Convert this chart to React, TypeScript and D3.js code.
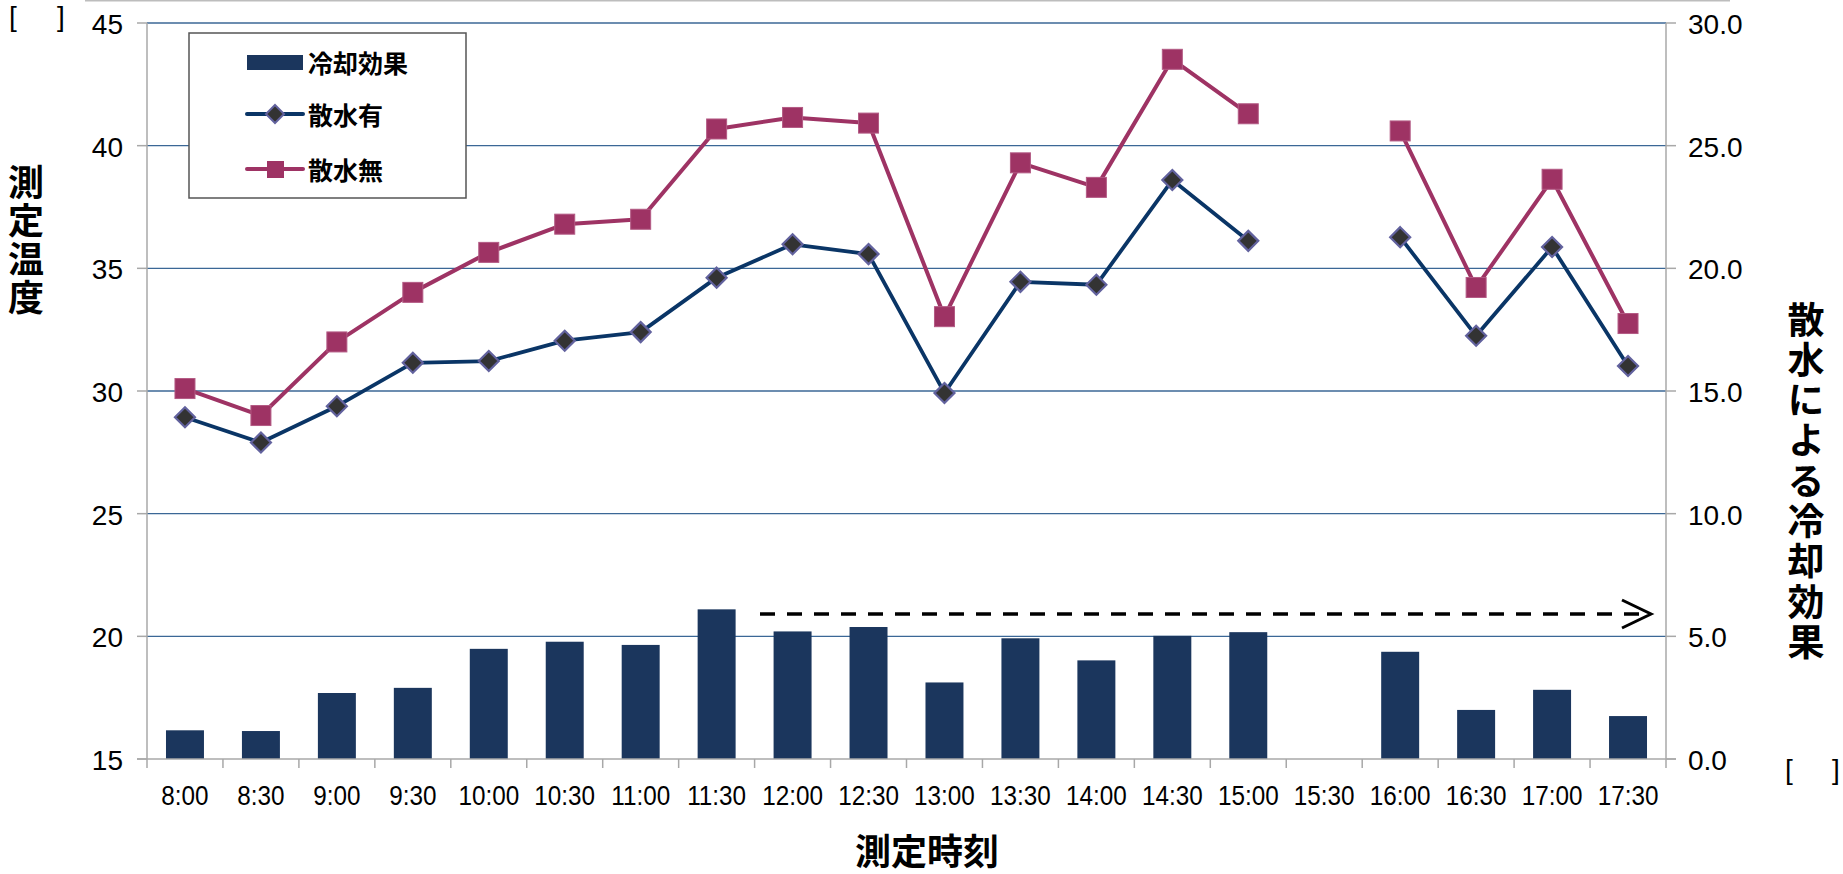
import React from "react";
import * as d3 from "d3";

const categories = ["8:00","8:30","9:00","9:30","10:00","10:30","11:00","11:30","12:00","12:30","13:00","13:30","14:00","14:30","15:00","15:30","16:00","16:30","17:00","17:30"];
const coolingEffect: (number | null)[] = [1.17,1.14,2.69,2.9,4.49,4.78,4.65,6.1,5.2,5.38,3.12,4.92,4.02,5.02,5.17,null,4.37,2.0,2.82,1.75];
const withWater: (number | null)[] = [28.93,27.9,29.38,31.15,31.22,32.05,32.4,34.62,35.98,35.58,29.92,34.45,34.33,38.6,36.12,null,36.27,32.25,35.87,31.02];
const withoutWater: (number | null)[] = [30.1,29.0,32.0,34.02,35.65,36.8,37.0,40.68,41.15,40.92,33.03,39.3,38.3,43.52,41.3,null,40.6,34.22,38.63,32.75];
const leftTicks = [15,20,25,30,35,40,45];
const rightTicks = [0,5,10,15,20,25,30];
const seriesNames = ["冷却効果","散水有","散水無"];
const xTitle = "測定時刻";
const leftTitle = "測定温度";
const rightTitle = "散水による冷却効果";

const W = 1843, H = 874;
const X0 = 147, X1 = 1666, Y0 = 759, Y1 = 23;
const NUM = "'Liberation Sans', Arial, sans-serif";
const CJK = "'Noto Sans CJK JP', 'Noto Sans', sans-serif";
const BAR = "#1b365d";
const NAVY = "#0a3566";
const MAG = "#9e3364";
const GRID = "#3b6796";
const AXIS = "#a8a8a8";

export default function App() {
  const x = d3.scaleBand<string>().domain(categories).range([X0, X1]).paddingInner(0.5).paddingOuter(0.25);
  const xb = d3.scaleBand<string>().domain(categories).range([X0, X1]);
  const yL = d3.scaleLinear().domain([15, 45]).range([Y0, Y1]);
  const yR = d3.scaleLinear().domain([0, 30]).range([Y0, Y1]);
  const cx = (c: string) => (xb(c) as number) + xb.bandwidth() / 2;

  const line = d3.line<number | null>()
    .defined((d) => d != null)
    .x((_, i) => cx(categories[i]))
    .y((d) => yL(d as number));

  const diamond = (px: number, py: number, r: number) =>
    `M${px},${py - r}L${px + r},${py}L${px},${py + r}L${px - r},${py}Z`;

  return (
    <svg width={W} height={H} style={{ position: "absolute", left: 0, top: 0, background: "#fff" }}>
      <line x1={85} x2={1730} y1={0.75} y2={0.75} stroke="#bdbdbd" strokeWidth={1.5} />
      {/* gridlines */}
      {leftTicks.filter((t) => t > 15).map((t) => (
        <line key={"g" + t} x1={X0} x2={X1} y1={yL(t)} y2={yL(t)} stroke={GRID} strokeWidth={1.3} />
      ))}
      {/* bars */}
      {categories.map((c, i) =>
        coolingEffect[i] == null ? null : (
          <rect key={"b" + c} x={x(c)} width={x.bandwidth()} y={yR(coolingEffect[i] as number)}
            height={Y0 - yR(coolingEffect[i] as number)} fill={BAR} />
        )
      )}
      {/* axes */}
      <line x1={X0} x2={X0} y1={Y1} y2={Y0 + 9} stroke={AXIS} strokeWidth={1.5} />
      <line x1={X1} x2={X1} y1={Y1} y2={Y0 + 9} stroke={AXIS} strokeWidth={1.5} />
      <line x1={X0 - 10} x2={X1 + 10} y1={Y0} y2={Y0} stroke={AXIS} strokeWidth={1.5} />
      {leftTicks.map((t) => (
        <g key={"lt" + t}>
          <line x1={X0 - 10} x2={X0} y1={yL(t)} y2={yL(t)} stroke={AXIS} strokeWidth={1.5} />
          <text x={123} y={yL(t) + 11} textAnchor="end" fontFamily={NUM} fontSize={28}>{t}</text>
        </g>
      ))}
      {rightTicks.map((t) => (
        <g key={"rt" + t}>
          <line x1={X1} x2={X1 + 10} y1={yR(t)} y2={yR(t)} stroke={AXIS} strokeWidth={1.5} />
          <text x={1688} y={yR(t) + 11} textAnchor="start" fontFamily={NUM} fontSize={28}>{t.toFixed(1)}</text>
        </g>
      ))}
      {categories.map((c, i) => (
        <g key={"xt" + c}>
          {i > 0 && <line x1={xb(c)} x2={xb(c)} y1={Y0} y2={Y0 + 9} stroke={AXIS} strokeWidth={1.5} />}
          <text transform={`translate(${cx(c)},805) scale(0.9,1)`} textAnchor="middle" fontFamily={NUM} fontSize={27}>{c}</text>
        </g>
      ))}
      {/* lines */}
      <path d={line(withoutWater) || ""} fill="none" stroke={MAG} strokeWidth={4} strokeLinejoin="round" />
      <path d={line(withWater) || ""} fill="none" stroke={NAVY} strokeWidth={3.8} strokeLinejoin="round" />
      {withoutWater.map((v, i) =>
        v == null ? null : (
          <rect key={"sq" + i} x={cx(categories[i]) - 10} y={yL(v) - 10} width={20} height={20} fill={MAG} stroke="#b35a84" strokeWidth={1} />
        )
      )}
      {withWater.map((v, i) =>
        v == null ? null : (
          <path key={"dm" + i} d={diamond(cx(categories[i]), yL(v), 10)} fill="#333333" stroke="#62629e" strokeWidth={2.2} />
        )
      )}
      {/* dashed arrow */}
      <line x1={760} x2={1648} y1={614} y2={614} stroke="#000" strokeWidth={3.5} strokeDasharray="15 12" />
      <polyline points="1622,600 1651,614 1622,628" fill="none" stroke="#000" strokeWidth={3} />
      {/* legend */}
      <rect x={189} y={33} width={277} height={165} fill="#fff" stroke="#555" strokeWidth={1.5} />
      <rect x={247} y={55} width={56} height={15} fill={BAR} />
      <line x1={247} x2={303} y1={114} y2={114} stroke={NAVY} strokeWidth={4} strokeLinecap="round" />
      <path d={diamond(275, 114, 9)} fill="#333333" stroke="#62629e" strokeWidth={2} />
      <line x1={247} x2={303} y1={169} y2={169} stroke={MAG} strokeWidth={4} strokeLinecap="round" />
      <rect x={267} y={161} width={17} height={17} fill={MAG} />
      {seriesNames.map((s, i) => (
        <text key={s} x={308} y={[62, 114, 169][i]} dominantBaseline="central" fontFamily={CJK} fontWeight="bold" fontSize={25}>{s}</text>
      ))}
      {/* titles */}
      <text x={927} y={849} textAnchor="middle" dominantBaseline="central" fontFamily={CJK} fontWeight="bold" fontSize={36}>{xTitle}</text>
      <text x={26} y={164} style={{ writingMode: "vertical-rl" }} letterSpacing={2.5} fontFamily={CJK} fontWeight="bold" fontSize={36}>{leftTitle}</text>
      <text x={1806} y={301} style={{ writingMode: "vertical-rl" }} letterSpacing={3.3} fontFamily={CJK} fontWeight="bold" fontSize={37}>{rightTitle}</text>
      <text x={9} y={26} fontFamily={NUM} fontSize={28}>[</text>
      <text x={57} y={26} fontFamily={NUM} fontSize={28}>]</text>
      <text x={1785} y={779} fontFamily={NUM} fontSize={28}>[</text>
      <text x={1832} y={779} fontFamily={NUM} fontSize={28}>]</text>
    </svg>
  );
}
